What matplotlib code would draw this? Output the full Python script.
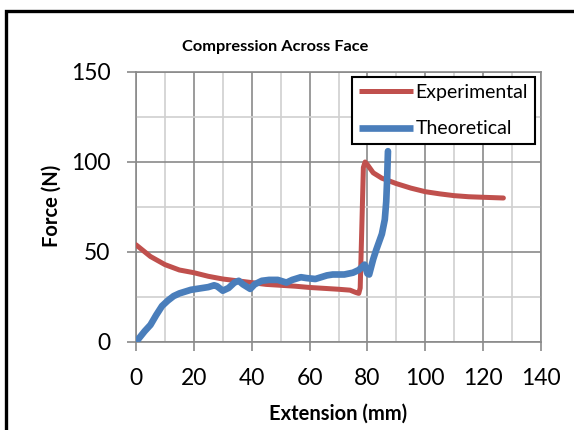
import matplotlib
matplotlib.use("Agg")
import matplotlib.pyplot as plt
from matplotlib.ticker import MultipleLocator
from matplotlib.patches import Rectangle

# -----------------------------------
# Data
# -----------------------------------
exp_x = [0, 5, 10, 15, 20, 25, 30, 35, 40, 45, 50, 55, 60, 65, 70, 74, 76, 77,
         77.5, 78, 78.6, 79.2, 80, 82, 85, 90, 95, 100, 105, 110, 115, 120, 127]
exp_y = [54, 47.5, 43, 40, 38.5, 36.5, 35, 34, 33, 32, 31.5, 31, 30.3, 29.8, 29.3, 28.8, 27.5, 27,
         30, 60, 97, 100, 98.5, 94, 91, 88, 85.5, 83.5, 82.3, 81.3, 80.7, 80.4, 80]

theo_x = [0, 1, 3, 5, 7, 9, 11, 13, 15, 17, 19, 21, 23, 25, 27, 28, 30, 32, 34, 35.5,
          37, 39.5, 41, 43.5, 46, 49, 52, 54, 57, 59, 62, 64, 66, 68, 72, 75, 77, 79,
          80, 80.6, 82, 83, 85, 86, 86.5, 86.8, 87, 87.1]
theo_y = [0, 2, 6, 9.5, 15, 20, 23, 25.5, 27, 28, 29, 29.5, 30, 30.5, 31.5, 31, 28.5, 30, 33, 34,
          32, 29.5, 32, 34, 34.5, 34.5, 33, 34.5, 36, 35.5, 35, 36, 37, 37.5, 37.5, 38.5, 40, 43,
          38, 37.5, 46, 51, 60, 68, 78, 90, 101, 106]

# -----------------------------------
# Figure
# -----------------------------------
plt.rcParams["font.family"] = ["Lato", "DejaVu Sans"]

fig = plt.figure(figsize=(5.74, 4.30), dpi=100)
ax = fig.add_axes([136 / 574, 1 - 342 / 430, 405 / 574, 270 / 430])

red = "#C0504D"
blue = "#4A7EBB"

ax.plot(exp_x, exp_y, color=red, lw=3.6, solid_capstyle="round", solid_joinstyle="round",
        label="Experimental", zorder=3)
ax.plot(theo_x, theo_y, color=blue, lw=4.8, solid_capstyle="round", solid_joinstyle="round",
        label="Theoretical", zorder=4)

ax.set_xlim(0, 140)
ax.set_ylim(0, 150)
ax.xaxis.set_major_locator(MultipleLocator(20))
ax.xaxis.set_minor_locator(MultipleLocator(10))
ax.yaxis.set_major_locator(MultipleLocator(50))
ax.yaxis.set_minor_locator(MultipleLocator(25))

ax.grid(which="major", color="#8a8a8a", lw=1.2, zorder=1)
ax.grid(which="minor", color="#d0d0d0", lw=1.2, zorder=0)
ax.set_axisbelow(True)

for side, sp in ax.spines.items():
    sp.set_color("#8a8a8a")
    sp.set_linewidth(1.2)

ax.tick_params(which="major", length=6.5, width=1.2, color="#8a8a8a",
               labelsize=16.5, pad=12)
ax.tick_params(which="minor", length=0)

# axis labels and title placed where they sit in the reference
fig.text(338 / 574, 1 - 414 / 430, "Extension (mm)", fontsize=14.5,
         fontweight="bold", ha="center", va="center")
fig.text(52 / 574, 1 - 206 / 430, "Force (N)", fontsize=14.5,
         fontweight="bold", ha="center", va="center", rotation=90)
fig.text(275 / 574, 1 - 47 / 430, "Compression Across Face", fontsize=11.8,
         fontweight="bold", ha="center", va="center")

leg = ax.legend(loc="upper right", bbox_to_anchor=(0.985, 0.981), fontsize=14,
                frameon=True, fancybox=False, edgecolor="black", framealpha=1,
                handlelength=2.75, labelspacing=1.0, borderpad=0.35, handletextpad=0.15,
                borderaxespad=0)
leg.get_frame().set_linewidth(1.5)
leg.set_zorder(5)
for h in leg.get_lines():
    h.set_solid_capstyle("butt")

# chart border (cropped on the right and bottom)
fig.patches.append(Rectangle((6 / 574, -0.05), 1.2, 1 - 11 / 430 + 0.05,
                             transform=fig.transFigure, fill=False,
                             edgecolor="black", lw=2.4, zorder=0))

plt.savefig("out.png", dpi=100)
plt.close()
